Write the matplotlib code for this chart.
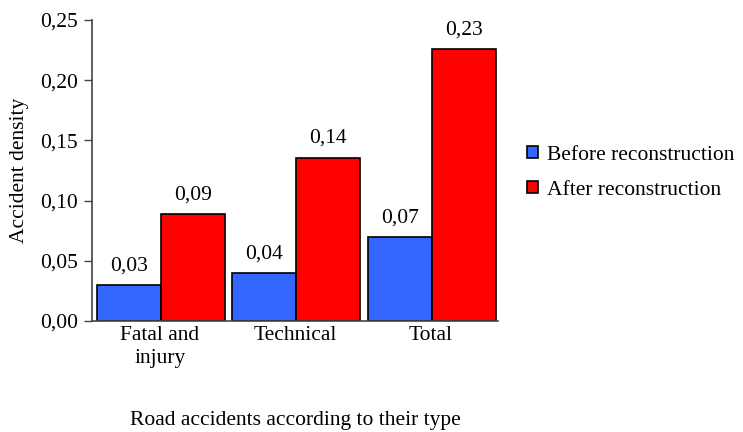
import matplotlib
matplotlib.use("Agg")
import matplotlib.pyplot as plt
import numpy as np

categories = ["Fatal and\ninjury", "Technical", "Total"]
before = [0.030, 0.040, 0.0695]
after = [0.089, 0.1357, 0.2259]
series_names = ["Before reconstruction", "After reconstruction"]
yticks = [0.00, 0.05, 0.10, 0.15, 0.20, 0.25]

plt.rcParams['font.family'] = ['Liberation Serif', 'DejaVu Serif']
FS = 15.5

fig = plt.figure(figsize=(7.43, 4.32), dpi=100)
ax = fig.add_axes([0.1238, 0.2569, 0.6703 - 0.1238, 0.9537 - 0.2569])

x = np.arange(len(categories))
w = 0.472
c_before = "#3366FF"
c_after = "#FF0000"
b1 = ax.bar(x - w / 2 + 0.01, before, w, color=c_before, edgecolor="black", linewidth=1.2, label=series_names[0])
b2 = ax.bar(x + w / 2 + 0.01, after, w, color=c_after, edgecolor="black", linewidth=1.2, label=series_names[1])

def fmt(v):
    return f"{v:.2f}".replace(".", ",")

for bars, vals in ((b1, before), (b2, after)):
    for r, v in zip(bars, vals):
        ax.annotate(fmt(v), (r.get_x() + r.get_width() / 2, v), xytext=(0, 7),
                    textcoords="offset points", ha="center", va="bottom", fontsize=FS)

ax.set_xlim(-0.5, 2.5)
ax.set_ylim(0, 0.25)
ax.set_yticks(yticks)
ax.set_yticklabels([fmt(t) for t in yticks], fontsize=FS)
ax.set_xticks(x)
ax.set_xticklabels(categories, fontsize=FS, linespacing=1.3)
ax.tick_params(axis="x", length=0, pad=3.5)
ax.tick_params(axis="y", length=6, width=1, color="#444444", pad=4)
for s in ["top", "right"]:
    ax.spines[s].set_visible(False)
for s in ["left", "bottom"]:
    ax.spines[s].set_color("#444444")
    ax.spines[s].set_linewidth(1.2)

ax.set_ylabel("Accident density", fontsize=FS, labelpad=8)
ax.set_xlabel("Road accidents according to their type", fontsize=FS, labelpad=31)

leg = fig.legend(handles=[b1, b2], loc="center left", bbox_to_anchor=(0.698, 0.600),
                 frameon=False, fontsize=FS, handlelength=0.5, handleheight=0.5,
                 handletextpad=0.4, labelspacing=0.75, borderaxespad=0)

fig.savefig("out.png", dpi=100)
